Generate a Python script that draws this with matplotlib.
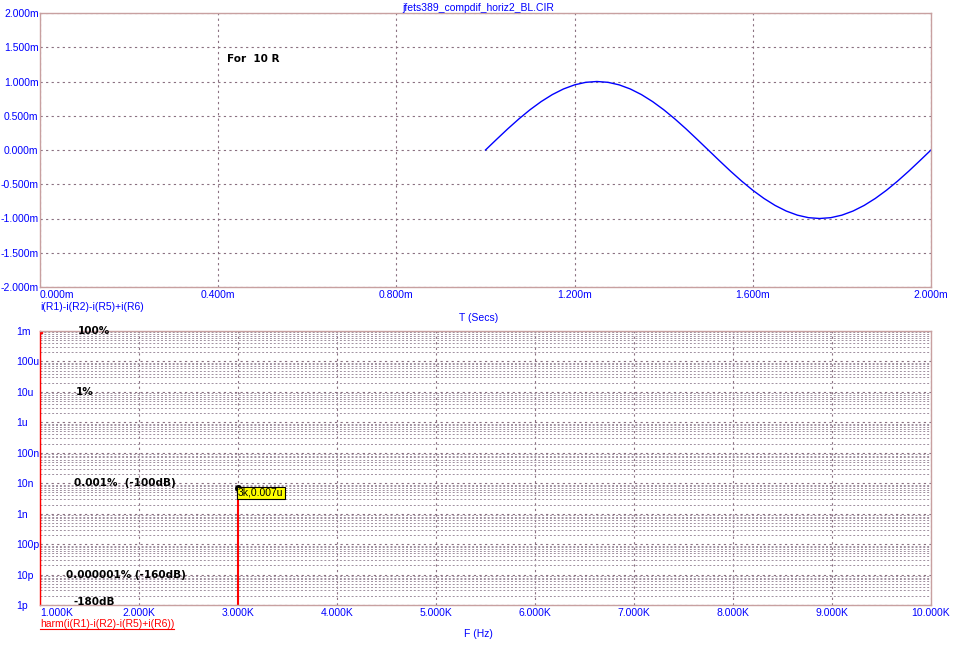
import matplotlib.pyplot as plt
from matplotlib.ticker import FixedLocator, LogLocator, NullFormatter

# top plot: transient current (time in ms, current in mA)
t_ms = [1.000, 1.025, 1.050, 1.075, 1.100, 1.125, 1.150, 1.175, 1.200, 1.225,
        1.250, 1.275, 1.300, 1.325, 1.350, 1.375, 1.400, 1.425, 1.450, 1.475,
        1.500, 1.525, 1.550, 1.575, 1.600, 1.625, 1.650, 1.675, 1.700, 1.725,
        1.750, 1.775, 1.800, 1.825, 1.850, 1.875, 1.900, 1.925, 1.950, 1.975,
        2.000]
i_ma = [0.000, 0.156, 0.309, 0.454, 0.588, 0.707, 0.809, 0.891, 0.951, 0.988,
        1.000, 0.988, 0.951, 0.891, 0.809, 0.707, 0.588, 0.454, 0.309, 0.156,
        0.000, -0.156, -0.309, -0.454, -0.588, -0.707, -0.809, -0.891, -0.951, -0.988,
        -1.000, -0.988, -0.951, -0.891, -0.809, -0.707, -0.588, -0.454, -0.309, -0.156,
        0.000]
t_ticks = [0.0, 0.4, 0.8, 1.2, 1.6, 2.0]
t_labels = ["0.000m", "0.400m", "0.800m", "1.200m", "1.600m", "2.000m"]
i_ticks = [-2.0, -1.5, -1.0, -0.5, 0.0, 0.5, 1.0, 1.5, 2.0]
i_labels = ["-2.000m", "-1.500m", "-1.000m", "-0.500m", "0.000m",
            "0.500m", "1.000m", "1.500m", "2.000m"]

# bottom plot: harmonics (Hz, A)
harm_f = [1000, 3000]
harm_a = [1e-3, 7e-9]
f_ticks = [1000, 2000, 3000, 4000, 5000, 6000, 7000, 8000, 9000, 10000]
f_labels = ["1.000K", "2.000K", "3.000K", "4.000K", "5.000K",
            "6.000K", "7.000K", "8.000K", "9.000K", "10.000K"]
a_ticks = [1e-3, 1e-4, 1e-5, 1e-6, 1e-7, 1e-8, 1e-9, 1e-10, 1e-11, 1e-12]
a_labels = ["1m", "100u", "10u", "1u", "100n", "10n", "1n", "100p", "10p", "1p"]
notes = [("100%", 1380, 1e-3), ("1%", 1360, 1e-5),
         ("0.001%  (-100dB)", 1340, 1e-8), ("0.000001% (-160dB)", 1260, 1e-11),
         ("-180dB", 1340, 1.3e-12)]

blue = "#0000ff"
red = "#ff0000"
gridc = "#8a7080"
lab_font = "Liberation Sans"

plt.rcParams["font.family"] = ["DejaVu Sans"]

fig = plt.figure(figsize=(9.57, 6.47), dpi=100)
fig.patch.set_facecolor("white")

ax1 = fig.add_axes([40/957, 1-287/647, 891/957, 274/647])
ax1.plot(t_ms, i_ma, color="#0000ff", lw=1)
ax1.set_xlim(0, 2)
ax1.set_ylim(-2, 2)
ax1.set_xticks(t_ticks)
ax1.set_xticklabels(t_labels, family=lab_font)
ax1.set_yticks(i_ticks)
ax1.set_yticklabels(i_labels, family=lab_font)
ax1.grid(True, color=gridc, ls=(0, (2, 3)), lw=0.8)
ax1.tick_params(length=0, labelsize=7.5, labelcolor=blue, pad=1)
ax1.tick_params(axis="x", pad=2)
ax1.xaxis.get_ticklabels()[0].set_horizontalalignment("left")
for s in ax1.spines.values():
    s.set_color("#c8a0a0")
    s.set_linewidth(1)
ax1.text(0.42, 1.28, "For  10 R", fontsize=7.5, fontweight="bold")
fig.text(0.5, 1-8/647, "jfets389_compdif_horiz2_BL.CIR", color=blue,
         fontsize=7.5, family=lab_font, ha="center", va="center")
fig.text(40/957, 1-307/647, "i(R1)-i(R2)-i(R5)+i(R6)", color=blue,
         fontsize=7.5, family=lab_font, va="center")
fig.text(0.5, 1-318/647, "T (Secs)", color=blue, fontsize=7.5,
         family=lab_font, ha="center", va="center")

ax2 = fig.add_axes([40/957, 1-605/647, 891/957, 274/647])
ax2.set_yscale("log")
ax2.set_xlim(1000, 10000)
ax2.set_ylim(1e-12, 1e-3)
ax2.vlines(harm_f, 1e-12, harm_a, color=red, lw=1.5)
ax2.plot(harm_f[0], harm_a[0], "s", color=red, ms=3)
ax2.plot(harm_f[1], harm_a[1], "o", color="black", ms=4)
ax2.set_xticks(f_ticks)
ax2.set_xticklabels(f_labels, family=lab_font)
ax2.xaxis.get_ticklabels()[0].set_horizontalalignment("left")
ax2.yaxis.set_major_locator(FixedLocator(a_ticks))
ax2.set_yticklabels(a_labels, family=lab_font, ha="left")
ax2.yaxis.set_minor_locator(LogLocator(base=10, subs=range(2, 10), numticks=20))
ax2.yaxis.set_minor_formatter(NullFormatter())
ax2.grid(True, which="major", color=gridc, ls=(0, (2, 3)), lw=0.8)
ax2.grid(True, which="minor", axis="y", color="#a090a0", ls=(0, (2, 2)), lw=0.7)
ax2.tick_params(which="both", length=0, labelsize=7.5, labelcolor=blue, pad=2)
ax2.tick_params(axis="y", pad=17)
for s in ax2.spines.values():
    s.set_color("#c8a0a0")
    s.set_linewidth(1)
ax2.spines["left"].set_color(red)
for txt, fx, ay in notes:
    ax2.text(fx, ay, txt, fontsize=7.5, fontweight="bold", va="center")
ax2.text(3000, 7e-9, "3k,0.007u", fontsize=7.5, family=lab_font,
         va="top", ha="left",
         bbox=dict(boxstyle="square,pad=0.1", fc="#ffff00", ec="black", lw=0.8))
fig.text(40/957, 1-624/647, "harm(i(R1)-i(R2)-i(R5)+i(R6))", color=red,
         fontsize=7.5, family=lab_font, va="center")
fig.add_artist(plt.Line2D([40/957, 174/957], [1-629/647, 1-629/647],
                          color=red, lw=0.8))
fig.text(0.5, 1-634/647, "F (Hz)", color=blue, fontsize=7.5,
         family=lab_font, ha="center", va="center")

fig.savefig("out.png", dpi=100)
